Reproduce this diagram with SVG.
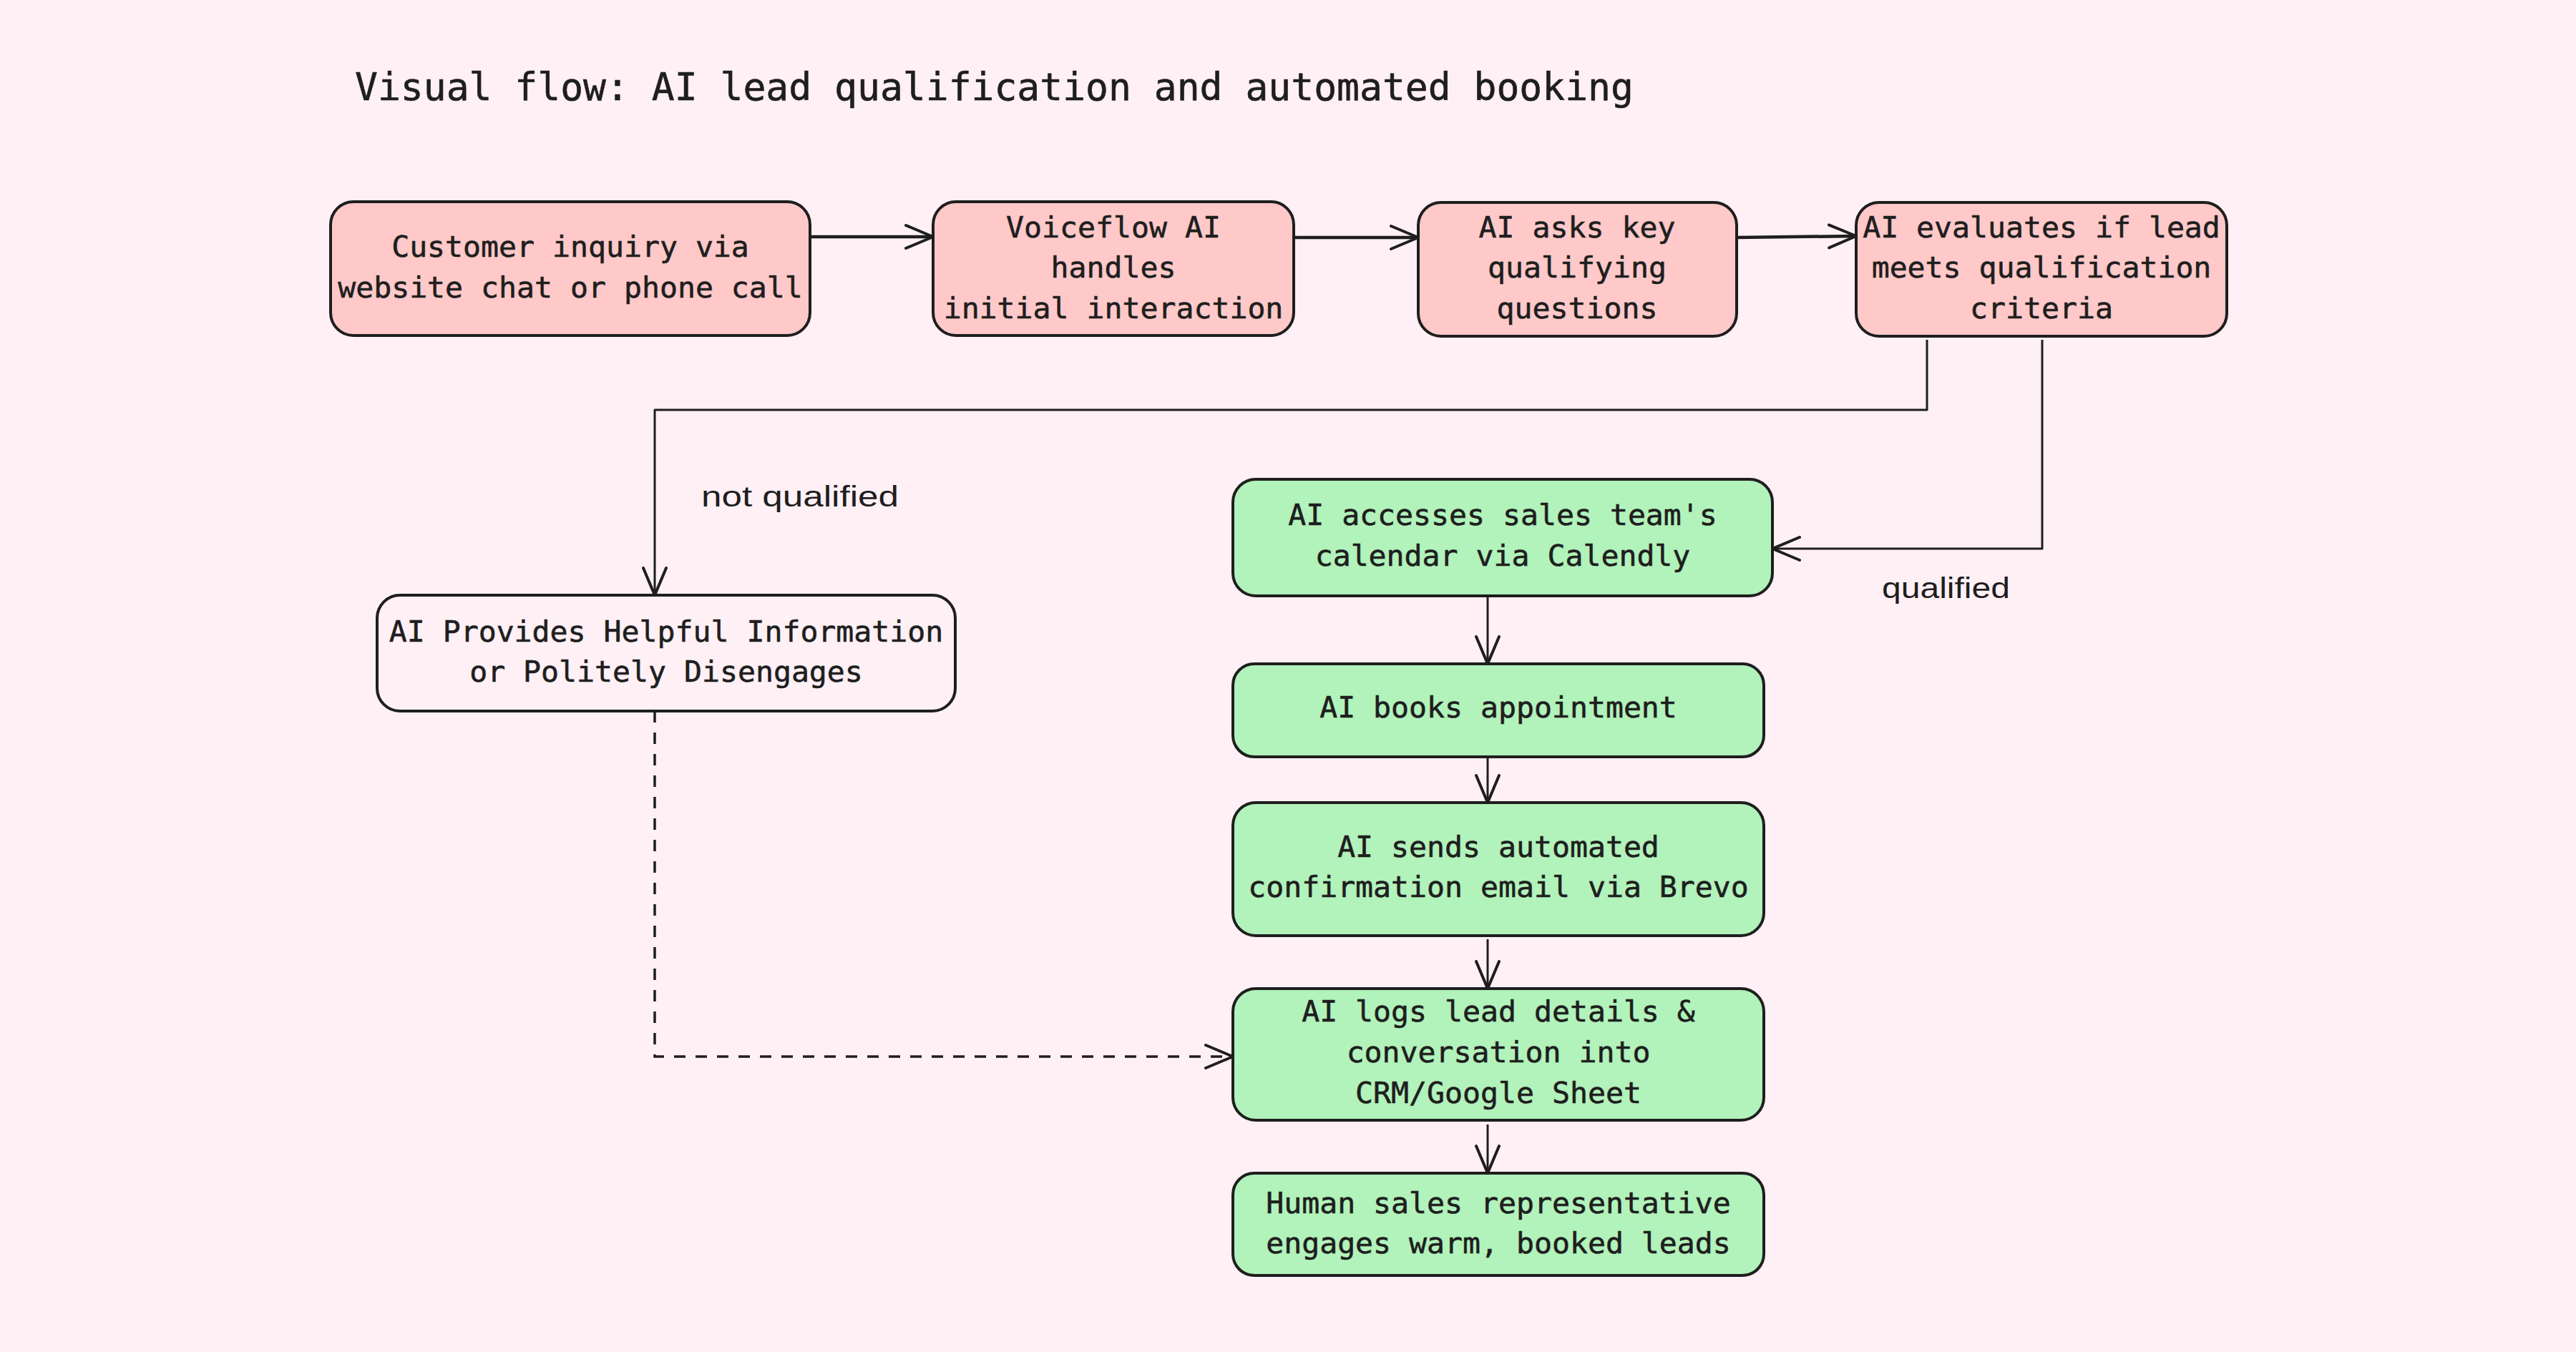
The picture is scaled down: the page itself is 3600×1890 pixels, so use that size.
<svg xmlns="http://www.w3.org/2000/svg" width="3600" height="1890" viewBox="0 0 3600 1890">
<defs>
<style>
.bg{fill:#fff0f5}
.pink{fill:#ffc9c9;stroke:#1e1e1e;stroke-width:4}
.green{fill:#b2f2bb;stroke:#1e1e1e;stroke-width:4}
.white{fill:#fff0f5;stroke:#1e1e1e;stroke-width:4}
.t{font-family:"DejaVu Sans Mono","Liberation Mono",monospace;font-size:41.5px;fill:#1e1e1e;text-anchor:middle;stroke:#1e1e1e;stroke-width:0.6}
.title{font-family:"DejaVu Sans Mono","Liberation Mono",monospace;font-size:53px;fill:#1e1e1e;stroke:#1e1e1e;stroke-width:0.6}
.lbl{font-family:"Liberation Sans",sans-serif;font-size:40px;fill:#1e1e1e}
.c{fill:none;stroke:#1e1e1e;stroke-width:3;stroke-linejoin:round}
.ct{fill:none;stroke:#1e1e1e;stroke-width:4.5}
.dash{fill:none;stroke:#1e1e1e;stroke-width:3.5;stroke-dasharray:16 14}
</style>
<marker id="ah" markerUnits="userSpaceOnUse" markerWidth="50" markerHeight="40" refX="40" refY="20" orient="auto" viewBox="0 0 50 40">
<path d="M2,4 L40,20 L2,36" fill="none" stroke="#1e1e1e" stroke-width="4" stroke-linecap="round" stroke-linejoin="round"/>
</marker>
</defs>
<rect class="bg" x="0" y="0" width="3600" height="1890"/>
<text class="title" x="496" y="140">Visual flow: AI lead qualification and automated booking</text>

<g id="connectors">
<path class="ct" d="M1132,331 L1304,331" marker-end="url(#ah)"/>
<path class="ct" d="M1808,332 L1982,332" marker-end="url(#ah)"/>
<path class="ct" d="M2427,332 L2594,330" marker-end="url(#ah)"/>
<path class="c" d="M2693,475 L2693,573 L915,573 L915,832" marker-end="url(#ah)"/>
<path class="c" d="M2854,475 L2854,767 L2477,767" marker-end="url(#ah)"/>
<path class="c" d="M2079,833 L2079,928" marker-end="url(#ah)"/>
<path class="c" d="M2079,1060 L2079,1122" marker-end="url(#ah)"/>
<path class="c" d="M2079,1313 L2079,1382" marker-end="url(#ah)"/>
<path class="c" d="M2079,1572 L2079,1640" marker-end="url(#ah)"/>
<path class="dash" d="M915,994 L915,1477 L1723,1477" marker-end="url(#ah)"/>
<text class="lbl" x="980" y="708" textLength="276" lengthAdjust="spacingAndGlyphs">not qualified</text>
<text class="lbl" x="2630" y="836" textLength="179" lengthAdjust="spacingAndGlyphs">qualified</text>
</g>

<g id="n1">
<rect class="pink" x="462" y="282" width="670" height="187" rx="32"/>
<text class="t" x="797" y="359">Customer inquiry via</text>
<text class="t" x="797" y="416">website chat or phone call</text>
</g>
<g id="n2">
<rect class="pink" x="1304" y="282" width="504" height="187" rx="32"/>
<text class="t" x="1556" y="332">Voiceflow AI</text>
<text class="t" x="1556" y="388">handles</text>
<text class="t" x="1556" y="445">initial interaction</text>
</g>
<g id="n3">
<rect class="pink" x="1982" y="283" width="445" height="187" rx="32"/>
<text class="t" x="2204" y="332">AI asks key</text>
<text class="t" x="2204" y="388">qualifying</text>
<text class="t" x="2204" y="445">questions</text>
</g>
<g id="n4">
<rect class="pink" x="2594" y="283" width="518" height="187" rx="32"/>
<text class="t" x="2853" y="332">AI evaluates if lead</text>
<text class="t" x="2853" y="388">meets qualification</text>
<text class="t" x="2853" y="445">criteria</text>
</g>
<g id="n5">
<rect class="green" x="1723" y="670" width="754" height="163" rx="32"/>
<text class="t" x="2100" y="734">AI accesses sales team's</text>
<text class="t" x="2100" y="791">calendar via Calendly</text>
</g>
<g id="n6">
<rect class="green" x="1723" y="928" width="742" height="130" rx="30"/>
<text class="t" x="2094" y="1003">AI books appointment</text>
</g>
<g id="n7">
<rect class="green" x="1723" y="1122" width="742" height="186" rx="32"/>
<text class="t" x="2094" y="1198">AI sends automated</text>
<text class="t" x="2094" y="1254">confirmation email via Brevo</text>
</g>
<g id="n8">
<rect class="green" x="1723" y="1382" width="742" height="184" rx="32"/>
<text class="t" x="2094" y="1428">AI logs lead details &amp;</text>
<text class="t" x="2094" y="1485">conversation into</text>
<text class="t" x="2094" y="1542">CRM/Google Sheet</text>
</g>
<g id="n9">
<rect class="green" x="1723" y="1640" width="742" height="143" rx="30"/>
<text class="t" x="2094" y="1696">Human sales representative</text>
<text class="t" x="2094" y="1752">engages warm, booked leads</text>
</g>
<g id="n10">
<rect class="white" x="527" y="832" width="808" height="162" rx="32"/>
<text class="t" x="931" y="897">AI Provides Helpful Information</text>
<text class="t" x="931" y="953">or Politely Disengages</text>
</g>
</svg>
